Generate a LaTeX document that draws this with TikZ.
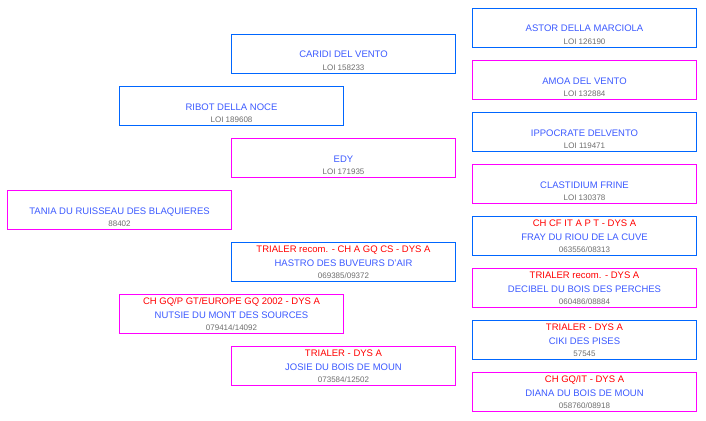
\documentclass[tikz,border=0pt]{standalone}
\usepackage{fontspec}
\setmainfont{Liberation Sans}
\definecolor{sirecol}{RGB}{0,102,255}
\definecolor{damcol}{RGB}{255,0,255}
\definecolor{namecol}{RGB}{60,90,255}
\definecolor{numcol}{RGB}{110,110,110}
\definecolor{titlecol}{RGB}{255,0,0}
\begin{document}
\begin{tikzpicture}[x=1pt,y=-1pt,
  malebox/.style={draw=sirecol,line width=1pt,minimum width=224pt,minimum height=39pt,inner sep=0pt},
  femalebox/.style={malebox,draw=damcol},
  titletxt/.style={anchor=base,inner sep=0pt,text=titlecol,font=\fontsize{9.5}{10}\selectfont},
  nametxt/.style={anchor=base,inner sep=0pt,text=namecol,font=\fontsize{9.5}{10}\selectfont},
  numtxt/.style={anchor=base,inner sep=0pt,text=numcol,font=\fontsize{8}{9}\selectfont}]
  \useasboundingbox[fill=white] (0,0) rectangle (706,420);

  %dog
  \node[femalebox] (tania) at (119.5,210) {};
  \node[nametxt] (tania-nm) at (119.5,214) {TANIA DU RUISSEAU DES BLAQUIERES};
  \node[numtxt] (tania-no) at (119.5,226.5) {88402};

  %parents
  \node[malebox] (ribot) at (231.5,106) {};
  \node[nametxt] (ribot-nm) at (231.5,110) {RIBOT DELLA NOCE};
  \node[numtxt] (ribot-no) at (231.5,122.5) {LOI 189608};

  \node[femalebox] (nutsie) at (231.5,314) {};
  \node[titletxt] (nutsie-tt) at (231.5,304.5) {CH GQ/P GT/EUROPE GQ 2002 - DYS A};
  \node[nametxt] (nutsie-nm) at (231.5,318) {NUTSIE DU MONT DES SOURCES};
  \node[numtxt] (nutsie-no) at (231.5,330.5) {079414/14092};

  %grandparents
  \node[malebox] (caridi) at (343.5,54) {};
  \node[nametxt] (caridi-nm) at (343.5,58) {CARIDI DEL VENTO};
  \node[numtxt] (caridi-no) at (343.5,70.5) {LOI 158233};

  \node[femalebox] (edy) at (343.5,158) {};
  \node[nametxt] (edy-nm) at (343.5,162) {EDY};
  \node[numtxt] (edy-no) at (343.5,174.5) {LOI 171935};

  \node[malebox] (hastro) at (343.5,262) {};
  \node[titletxt] (hastro-tt) at (343.5,252.5) {TRIALER recom. - CH A GQ CS - DYS A};
  \node[nametxt] (hastro-nm) at (343.5,266) {HASTRO DES BUVEURS D'AIR};
  \node[numtxt] (hastro-no) at (343.5,278.5) {069385/09372};

  \node[femalebox] (josie) at (343.5,366) {};
  \node[titletxt] (josie-tt) at (343.5,356.5) {TRIALER - DYS A};
  \node[nametxt] (josie-nm) at (343.5,370) {JOSIE DU BOIS DE MOUN};
  \node[numtxt] (josie-no) at (343.5,382.5) {073584/12502};

  %great-grandparents
  \node[malebox] (astor) at (584.5,28) {};
  \node[nametxt] (astor-nm) at (584.5,32) {ASTOR DELLA MARCIOLA};
  \node[numtxt] (astor-no) at (584.5,44.5) {LOI 126190};

  \node[femalebox] (amoa) at (584.5,80) {};
  \node[nametxt] (amoa-nm) at (584.5,84) {AMOA DEL VENTO};
  \node[numtxt] (amoa-no) at (584.5,96.5) {LOI 132884};

  \node[malebox] (ippocrate) at (584.5,132) {};
  \node[nametxt] (ippocrate-nm) at (584.5,136) {IPPOCRATE DELVENTO};
  \node[numtxt] (ippocrate-no) at (584.5,148.5) {LOI 119471};

  \node[femalebox] (clastidium) at (584.5,184) {};
  \node[nametxt] (clastidium-nm) at (584.5,188) {CLASTIDIUM FRINE};
  \node[numtxt] (clastidium-no) at (584.5,200.5) {LOI 130378};

  \node[malebox] (fray) at (584.5,236) {};
  \node[titletxt] (fray-tt) at (584.5,226.5) {CH CF IT A P T - DYS A};
  \node[nametxt] (fray-nm) at (584.5,240) {FRAY DU RIOU DE LA CUVE};
  \node[numtxt] (fray-no) at (584.5,252.5) {063556/08313};

  \node[femalebox] (decibel) at (584.5,288) {};
  \node[titletxt] (decibel-tt) at (584.5,278.5) {TRIALER recom. - DYS A};
  \node[nametxt] (decibel-nm) at (584.5,292) {DECIBEL DU BOIS DES PERCHES};
  \node[numtxt] (decibel-no) at (584.5,304.5) {060486/08884};

  \node[malebox] (ciki) at (584.5,340) {};
  \node[titletxt] (ciki-tt) at (584.5,330.5) {TRIALER - DYS A};
  \node[nametxt] (ciki-nm) at (584.5,344) {CIKI DES PISES};
  \node[numtxt] (ciki-no) at (584.5,356.5) {57545};

  \node[femalebox] (diana) at (584.5,392) {};
  \node[titletxt] (diana-tt) at (584.5,382.5) {CH GQ/IT - DYS A};
  \node[nametxt] (diana-nm) at (584.5,396) {DIANA DU BOIS DE MOUN};
  \node[numtxt] (diana-no) at (584.5,408.5) {058760/08918};

\end{tikzpicture}
\end{document}
